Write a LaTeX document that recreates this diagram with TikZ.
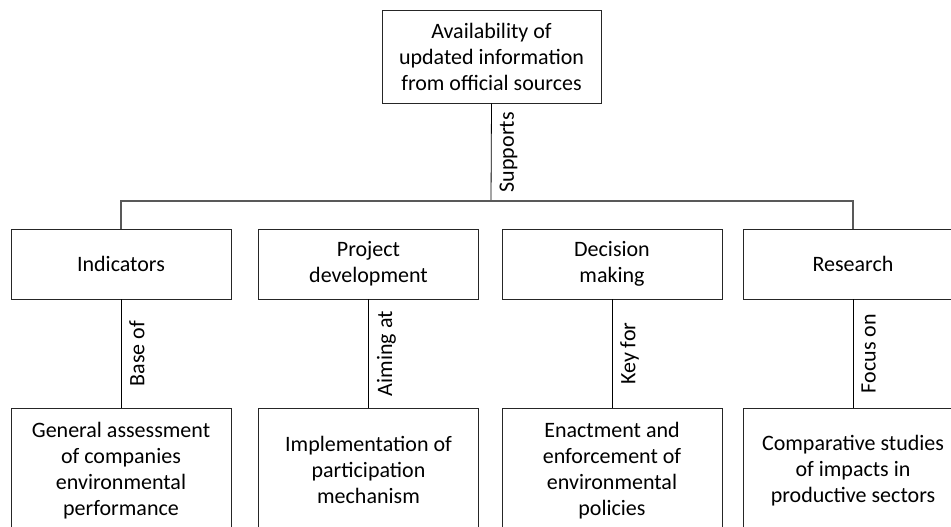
\documentclass[tikz,border=0pt]{standalone}
\usepackage{fontspec}
\setmainfont{Carlito}
\begin{document}
\begin{tikzpicture}[x=1pt,y=-1pt,
  txt/.style={font=\fontsize{22}{26}\selectfont},
  box/.style={txt, draw=black!85, line width=0.8pt, align=center, minimum width=220pt, inner sep=2pt},
  rowbox/.style={box, minimum height=70pt},
  lowbox/.style={box, minimum height=124pt, anchor=north},
  link/.style={draw=black, line width=0.8pt},
  bus/.style={draw=black!65, line width=2pt},
  lbl/.style={txt, rotate=90, anchor=north, inner sep=8pt}]
  \useasboundingbox (0,0) rectangle (951,527);

  % top box
  \node[box, minimum width=219pt, minimum height=93pt] (avail) at (491.5,56.5)
    {Availability of\\updated information\\from official sources};
  \coordinate (bus) at (491,201);

  % middle row
  \node[rowbox] (ind) at (121,264) {Indicators};
  \node[rowbox] (proj) at (368.5,264) {Project\\development};
  \node[rowbox] (dec) at (612,264) {Decision\\making};
  \node[rowbox] (res) at (853,264) {Research};

  % bottom row
  \node[lowbox] (ind-b) at (121,408)
    {General assessment\\of companies\\environmental\\performance};
  \node[lowbox] (proj-b) at (368.5,408)
    {Implementation of\\participation\\mechanism};
  \node[lowbox] (dec-b) at (612,408)
    {Enactment and\\enforcement of\\environmental\\policies};
  \node[lowbox] (res-b) at (853,408)
    {Comparative studies\\of impacts in\\productive sectors};

  % connectors
  \draw[link] (avail.south) -- node[lbl] {Supports} (bus);
  \draw[bus] (ind.north) |- (bus) -| (res.north);
  \draw[link] (ind.south) -- node[lbl] {Base of} (ind-b.north);
  \draw[link] (proj.south) -- node[lbl] {Aiming at} (proj-b.north);
  \draw[link] (dec.south) -- node[lbl] {Key for} (dec-b.north);
  \draw[link] (res.south) -- node[lbl] {Focus on} (res-b.north);
\end{tikzpicture}
\end{document}
